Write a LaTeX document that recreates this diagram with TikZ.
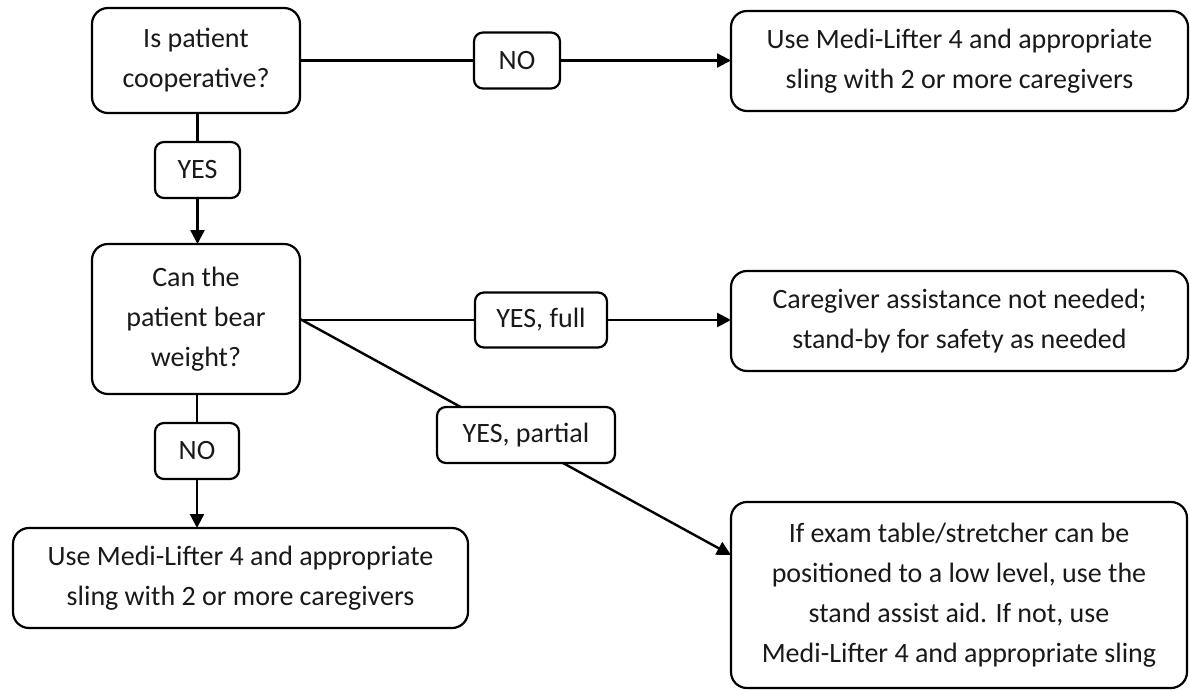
\documentclass[tikz,border=0pt]{standalone}
\usepackage{fontspec}
\setmainfont{Carlito}
\usetikzlibrary{arrows.meta,backgrounds}
\begin{document}
\begin{tikzpicture}[x=1pt,y=-1pt,
  every node/.style={inner sep=0pt,outer sep=0pt,align=center,text=black!90},
  bigbox/.style={draw,line width=2.2pt,rounded corners=16pt,font=\fontsize{28}{40}\selectfont},
  lbl/.style={draw,line width=2.2pt,rounded corners=9pt,fill=white,font=\fontsize{28}{40}\selectfont},
  conn/.style={line width=2.4pt},
  arr/.style={conn,-{Triangle[width=14pt,length=14pt]}}]
\useasboundingbox (0,0) rectangle (1190,690);
% main boxes
\node[bigbox,minimum width=208pt,minimum height=105pt] (A) at (196,60.5) {Is patient\\cooperative?};
\node[bigbox,minimum width=457pt,minimum height=100pt] (B) at (959.5,61) {Use Medi-Lifter 4 and appropriate\\sling with 2 or more caregivers};
\node[bigbox,minimum width=208pt,minimum height=150pt] (C) at (196,319) {Can the\\patient bear\\weight?};
\node[bigbox,minimum width=457pt,minimum height=100pt] (D) at (959.5,321) {Caregiver assistance not needed;\\stand-by for safety as needed};
\node[bigbox,minimum width=455pt,minimum height=100pt] (E) at (240.5,578) {Use Medi-Lifter 4 and appropriate\\sling with 2 or more caregivers};
\node[bigbox,minimum width=456pt,minimum height=186pt] (F) at (959,595) {If exam table/stretcher can be\\positioned to a low level, use the\\stand assist aid. If not, use\\Medi-Lifter 4 and appropriate sling};
% labels
\node[lbl,minimum width=86pt,minimum height=56pt] (noA) at (517,60.5) {NO};
\node[lbl,minimum width=85pt,minimum height=56pt] (yesA) at (197.5,170) {YES};
\node[lbl,minimum width=132pt,minimum height=55pt] (full) at (541,320) {YES, full};
\node[lbl,minimum width=178pt,minimum height=56pt] (partial) at (526,435) {YES, partial};
\node[lbl,minimum width=84pt,minimum height=56pt] (noC) at (197,451) {NO};
\coordinate (Fin) at (731,555);
% connectors
\draw[conn] (A.east) -- (noA.west);
\draw[arr] (noA.east) -- (noA.east -| B.west);
\draw[conn] (A.south -| yesA.north) -- (yesA.north);
\draw[arr] (yesA.south) -- (yesA.south |- C.north);
\draw[conn] (C.east |- full.west) -- (full.west);
\draw[arr] (full.east) -- (full.east -| D.west);
\draw[conn] (C.south -| noC.north) -- (noC.north);
\draw[arr] (noC.south) -- (noC.south |- E.north);
\begin{scope}[on background layer]
\draw[arr] (C.east) -- (Fin);
\end{scope}
\end{tikzpicture}
\end{document}
